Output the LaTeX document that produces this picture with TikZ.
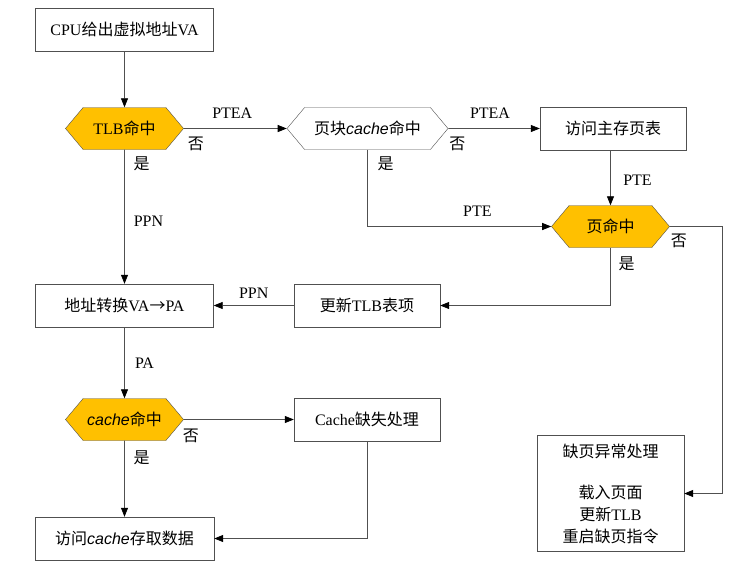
\documentclass[tikz,border=0pt]{standalone}
\usepackage{fontspec}
\setmainfont{Liberation Serif}
\setsansfont{Liberation Sans}
\newfontfamily\cjk{Noto Sans CJK SC}
\newcommand{\zh}[1]{{\cjk #1}}
\newcommand{\cachetxt}{{\sffamily\itshape cache}}
\usetikzlibrary{arrows.meta,shapes.symbols,positioning}
\definecolor{hitfill}{RGB}{255,192,0}
\definecolor{linegray}{RGB}{80,80,80}
\tikzset{
  box/.style={draw=linegray, fill=white, minimum width=146pt, minimum height=43pt, inner sep=0pt},
  hexa/.style={signal, signal to=east and west, signal pointer angle=100, draw=linegray,
    fill=hitfill, minimum width=118pt, minimum height=42pt, inner sep=0pt},
  flow/.style={draw=linegray, line width=0.8pt, -{Triangle[length=9pt,width=7pt,color=black]}},
  lbl/.style={inner sep=0pt}
}

\begin{document}
\begin{tikzpicture}[x=1pt,y=-1pt,font=\fontsize{16}{22}\selectfont]
  \useasboundingbox (0,0) rectangle (738,571);
  % nodes
  \node[box, minimum width=178pt] (cpu) at (124.5,29.5) {CPU\zh{给出虚拟地址}VA};
  \node[hexa] (tlb) at (124.5,128.5) {TLB\zh{命中}};
  \node[hexa, fill=white, minimum width=161pt] (pcache) at (367.5,128.5) {\zh{页块}\cachetxt\zh{命中}};
  \node[box] (mem) at (613,128.5) {\zh{访问主存页表}};
  \node[hexa] (phit) at (610.5,226.5) {\zh{页命中}};
  \node[box, minimum width=178pt] (addr) at (124.5,305.5) {\zh{地址转换}VA\zh{→}PA};
  \node[box] (upd) at (367,305.5) {\zh{更新}TLB\zh{表项}};
  \node[hexa] (chit) at (124.5,419.5) {\cachetxt\zh{命中}};
  \node[box] (miss) at (367,419.5) {Cache\zh{缺失处理}};
  \node[box, minimum width=179pt] (access) at (124.5,538.5) {\zh{访问}\cachetxt\zh{存取数据}};
  \node[box, minimum width=147pt, minimum height=116pt, align=center] (fault) at (610.5,493.5)
    {\zh{缺页异常处理}\\[19pt]\zh{载入页面}\\\zh{更新}TLB\\\zh{重启缺页指令}};
  \coordinate (turn) at (722,226.5);
  % connectors
  \draw[flow] (cpu) -- (tlb);
  \draw[flow] (tlb) -- (pcache)
    node[lbl, midway, xshift=-3pt, yshift=15pt] {PTEA}
    node[lbl, at start, xshift=12pt, yshift=-15pt] {\zh{否}};
  \draw[flow] (tlb) -- (addr)
    node[lbl, at start, xshift=17pt, yshift=-14pt] {\zh{是}}
    node[lbl, midway, xshift=24pt, yshift=-5pt] {PPN};
  \draw[flow] (pcache) -- (mem)
    node[lbl, midway, xshift=-4pt, yshift=15pt] {PTEA}
    node[lbl, at start, xshift=9pt, yshift=-15pt] {\zh{否}};
  \draw[flow] (pcache.south) |- (phit.west)
    node[lbl, at start, xshift=18pt, yshift=-14pt] {\zh{是}}
    node[lbl, pos=0.75, xshift=18pt, yshift=15pt] {PTE};
  \draw[flow] (phit.north |- mem.south) -- (phit.north)
    node[lbl, midway, xshift=27pt, yshift=-3pt] {PTE};
  \draw[flow] (phit.south) |- (upd.east)
    node[lbl, at start, xshift=16pt, yshift=-16pt] {\zh{是}};
  \draw[flow] (phit.east) -- node[lbl, at start, xshift=9pt, yshift=-14pt] {\zh{否}} (turn) |- (fault.east);
  \draw[flow] (upd) -- (addr)
    node[lbl, midway, yshift=12.5pt] {PPN};
  \draw[flow] (addr) -- (chit)
    node[lbl, midway, xshift=20pt] {PA};
  \draw[flow] (chit) -- (miss)
    node[lbl, at start, xshift=7pt, yshift=-16pt] {\zh{否}};
  \draw[flow] (chit) -- (access)
    node[lbl, at start, xshift=17pt, yshift=-17pt] {\zh{是}};
  \draw[flow] (miss.south) |- (access.east);
\end{tikzpicture}
\end{document}
